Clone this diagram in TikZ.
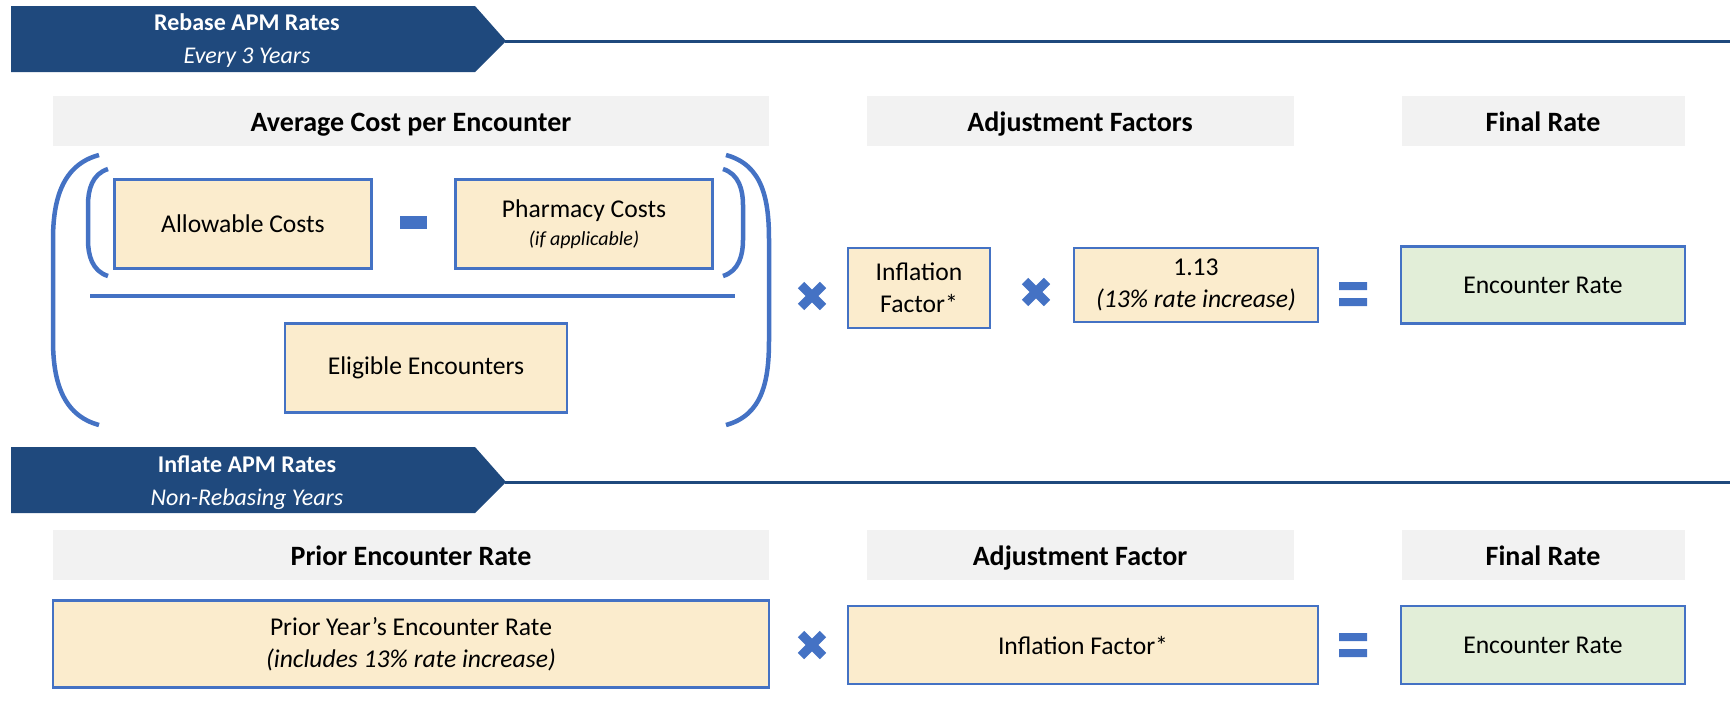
\documentclass[tikz,border=0pt]{standalone}
\usepackage{fontspec}
\setmainfont{Carlito}
\usetikzlibrary{positioning,calc}

\definecolor{bannerblue}{HTML}{1F497D}
\definecolor{edgeblue}{HTML}{4472C4}
\definecolor{tanfill}{HTML}{FBECCD}
\definecolor{greenfill}{HTML}{E2EED8}
\definecolor{headgray}{HTML}{F2F2F2}

\tikzset{
	valbox/.style={draw=edgeblue, line width=2.5pt, fill=tanfill, align=center, inner sep=0pt,
		font=\fontsize{25.6}{32}\selectfont},
	ratebox/.style={valbox, fill=greenfill},
	headbar/.style={fill=headgray, inner sep=0pt, minimum height=50pt, text height=21pt, text depth=0pt,
		font=\fontsize{28}{32}\selectfont\bfseries},
	bannertext/.style={text=white, font=\fontsize{24}{33}\selectfont, align=center},
	paren/.style={edgeblue, line width=4.5pt},
	timesign/.style={edgeblue, line width=9pt},
}

\begin{document}
\begin{tikzpicture}[x=1pt, y=-1pt]
	\useasboundingbox (0,0) rectangle (1730,716);

	% banners with their rules
	\foreach \by in {6,447} {
		\fill[bannerblue] (11,\by) -- (475,\by) -- (506,\by+35) -- (475,\by+66) -- (11,\by+66) -- cycle;
		\draw[bannerblue, line width=3pt] (505,\by+35) -- (1730,\by+35);
	}
	\node[bannertext] (rebase) at (247,41) {\textbf{Rebase APM Rates}\\\textit{Every 3 Years}};
	\node[bannertext] (inflate) at (247,483) {\textbf{Inflate APM Rates}\\\textit{Non-Rebasing Years}};

	% headers
	\node[headbar, minimum width=716pt] (avghead) at (411,121) {Average Cost per Encounter};
	\node[headbar, minimum width=427pt] (adjhead) at (1080,121) {Adjustment Factors};
	\node[headbar, minimum width=283pt] (finhead) at (1543,121) {Final Rate};
	\node[headbar, minimum width=716pt] (priorhead) at (411,555) {Prior Encounter Rate};
	\node[headbar, minimum width=427pt] (adjhead2) at (1080,555) {Adjustment Factor};
	\node[headbar, minimum width=283pt] (finhead2) at (1543,555) {Final Rate};

	% average cost per encounter
	\node[valbox, minimum width=257pt, minimum height=89pt] (allow) at (243,224) {Allowable Costs};
	\node[valbox, minimum width=257pt, minimum height=89pt] (pharm) at (584,224)
		{Pharmacy Costs\\[-4pt]{\fontsize{20}{24}\selectfont\itshape (if applicable)}};
	\node[valbox, minimum width=282pt, minimum height=89pt] (elig) at (426,368) {Eligible Encounters};
	\fill[edgeblue] (400,216) rectangle (427,229);
	\draw[edgeblue, line width=4pt] (90,296) -- (735,296);

	% brackets
	\draw[paren] (99,155) .. controls (62,165) and (53,200) .. (53,240) -- (53,340)
		.. controls (53,380) and (62,415) .. (99,425);
	\draw[paren] (726,155) .. controls (763,165) and (769,200) .. (769,240) -- (769,340)
		.. controls (769,380) and (763,415) .. (726,425);
	\draw[paren] (108,169) .. controls (92,174) and (88,190) .. (88,205) -- (88,240)
		.. controls (88,255) and (92,271) .. (108,276);
	\draw[paren] (723,169) .. controls (739,174) and (743,190) .. (743,205) -- (743,240)
		.. controls (743,255) and (739,271) .. (723,276);

	% adjustment and final rate, rebase
	\node[valbox, minimum width=142pt, minimum height=80pt] (infl) at (919,288) {Inflation\\Factor*};
	\node[valbox, minimum width=244pt, minimum height=74pt] (rise) at (1196,285)
		{1.13\\\textit{(13\% rate increase)}};
	\node[ratebox, minimum width=284pt, minimum height=77pt] (rate) at (1543,285) {Encounter Rate};

	% inflate row
	\node[valbox, minimum width=716pt, minimum height=87pt] (prior) at (411,644)
		{Prior Year’s Encounter Rate\\\textit{(includes 13\% rate increase)}};
	\node[valbox, minimum width=470pt, minimum height=78pt] (infl2) at (1083,645) {Inflation Factor*};
	\node[ratebox, minimum width=284pt, minimum height=78pt] (rate2) at (1543,645) {Encounter Rate};

	% operators
	\foreach \sx/\sy in {812/296, 1036/292, 812/645} {
		\draw[timesign] (\sx-11,\sy-11) -- (\sx+11,\sy+11) (\sx-11,\sy+11) -- (\sx+11,\sy-11);
	}
	\foreach \sx/\sy in {1353/294, 1353/645} {
		\fill[edgeblue] (\sx-14,\sy-12) rectangle (\sx+14,\sy-4) (\sx-14,\sy+4) rectangle (\sx+14,\sy+12);
	}
\end{tikzpicture}
\end{document}
